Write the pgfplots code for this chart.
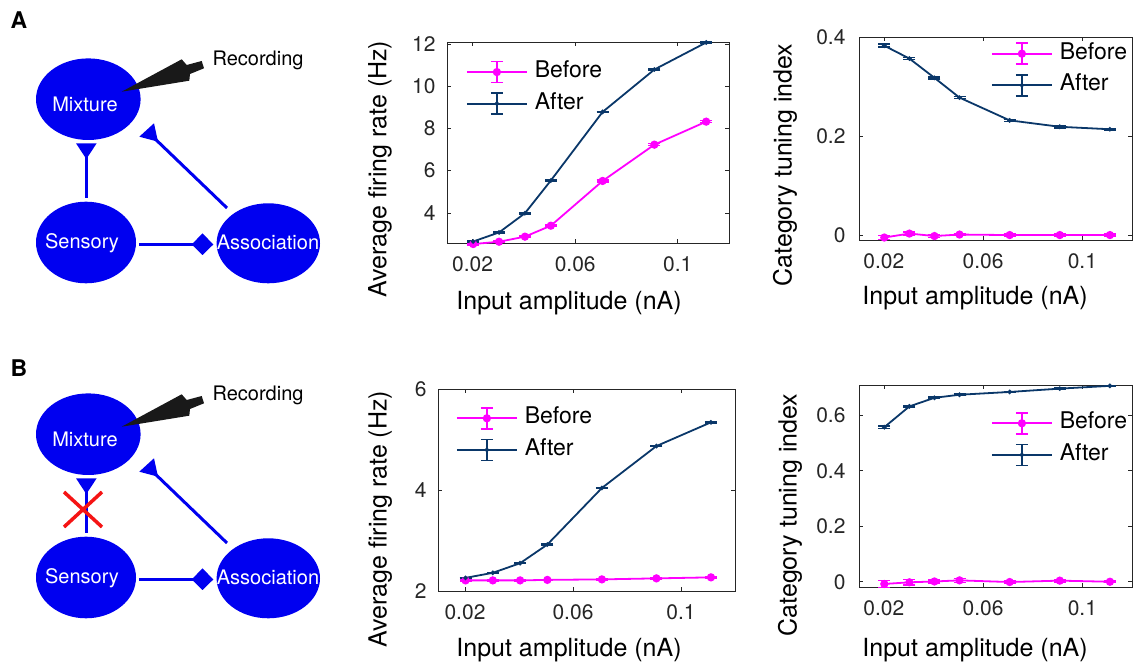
\documentclass[border=0pt]{standalone}
\usepackage{fontspec}
\setmainfont{TeX Gyre Heros}
\usepackage{pgfplots}
\pgfplotsset{compat=1.18}
\definecolor{mag}{RGB}{255,0,255}
\definecolor{aft}{RGB}{10,55,105}
\definecolor{axc}{RGB}{38,38,38}
\definecolor{nodeblue}{RGB}{0,0,240}
\definecolor{xred}{RGB}{245,20,20}

\pgfplotsset{
 mystyle/.style={
   scale only axis,
   xmin=0.01, xmax=0.12,
   xtick={0.02,0.06,0.1}, xticklabels={0.02,0.06,0.1},
   tick align=inside,
   major tick length=4pt,
   axis line style={axc, line width=0.6pt},
   every tick/.style={axc, line width=0.6pt},
   ticklabel style={font=\fontsize{21}{25}\selectfont, text=axc},
   /pgf/number format/assume math mode=true,
   xticklabel style={yshift=-10pt},
   label style={font=\fontsize{25}{30}\selectfont},
   legend style={draw=none, fill=none, inner sep=0pt, outer sep=0pt,
     font=\fontsize{23}{27}\selectfont,
     nodes={inner sep=0pt, text height=16pt, text depth=5pt, anchor=west},
     row sep=9pt, column sep=7pt, anchor=north west},
   legend cell align=left,
   clip=false,
 },
 beforeplot/.style={mag, line width=1.8pt, mark=*, mark size=3.2pt, mark options={solid, fill=mag},
   legend image code/.code={
     \draw[mag, line width=1.8pt] (0pt,0pt) -- (60pt,0pt);
     \draw[mag, line width=1.6pt] (30pt,-10.5pt) -- (30pt,10.5pt) (24pt,-10.5pt) -- (36pt,-10.5pt) (24pt,10.5pt) -- (36pt,10.5pt);
     \fill[mag] (30pt,0pt) circle (3.2pt);
   },
   error bars/.cd, y dir=both, y explicit, error bar style={line width=1.5pt, mag},
   error mark options={rotate=90, mag, mark size=6pt, line width=1.5pt}},
 afterplot/.style={aft, line width=1.8pt, mark=*, mark size=1.3pt, mark options={solid, fill=aft},
   legend image code/.code={
     \draw[aft, line width=1.8pt] (0pt,0pt) -- (60pt,0pt);
     \draw[aft, line width=1.6pt] (30pt,-10.5pt) -- (30pt,10.5pt) (24pt,-10.5pt) -- (36pt,-10.5pt) (24pt,10.5pt) -- (36pt,10.5pt);
     \fill[aft] (30pt,0pt) circle (1.3pt);
   },
   error bars/.cd, y dir=both, y explicit, error bar style={line width=1.5pt, aft},
   error mark options={rotate=90, aft, mark size=6pt, line width=1.5pt}},
}

\newcommand{\diagram}{%
 \fill[nodeblue] (88.3,99.2) ellipse (52.3 and 40.8);
 \fill[nodeblue] (86,242.5) ellipse (50 and 40.8);
 \fill[nodeblue] (268.3,243.3) ellipse (51.7 and 40);
 \node[white, font=\fontsize{20}{24}\selectfont] at (85,104) {Mixture};
 \node[white, font=\fontsize{20}{24}\selectfont] at (82,243) {Sensory};
 \node[white, font=\fontsize{20}{24}\selectfont] at (268,242.5) {Association};
 \node[black, font=\fontsize{20}{24}\selectfont] at (258,60) {Recording};
 \fill[black!90] (121.7,91.7) -- (181.7,59.3) -- (186.7,65) -- (201.7,61) -- (204,68.3) -- (190,74) -- (189.3,80.7) -- cycle;
 \draw[nodeblue, line width=3pt] (86,157) -- (86,198);
 \fill[nodeblue] (76,143.3) -- (96.7,143.3) -- (86.3,159) -- cycle;
 \draw[nodeblue, line width=3pt] (227,208) -- (150,134);
 \fill[nodeblue] (139.3,136.7) -- (154,123.3) -- (158,141.7) -- cycle;
 \draw[nodeblue, line width=3pt] (139.3,244.5) -- (195,244.5);
 \fill[nodeblue] (191.7,244.5) -- (202.5,233.3) -- (213.3,244.5) -- (202.5,255) -- cycle;
}

\begin{document}
\begin{tikzpicture}
\path[use as bounding box] (0,0) rectangle (1136pt,667pt);

% diagrams
\begin{scope}[x=1pt,y=-1pt,yshift=667pt]
 \diagram
 \node[font=\bfseries\fontsize{23}{27}\selectfont] at (19,20) {A};
 \node[font=\bfseries\fontsize{23}{27}\selectfont] at (19,368) {B};
\end{scope}
\begin{scope}[x=1pt,y=-1pt,yshift=332pt]
 \diagram
 \draw[xred, line width=3.5pt] (64,157) -- (102,192) (102,157) -- (64,192);
\end{scope}

% A1
\begin{axis}[mystyle, at={(447pt,424pt)}, anchor=south west, width=282pt, height=200.7pt,
  ymin=2.57, ymax=12.08, ytick={4,6,8,10,12}, yticklabels={4,6,8,10,12},
  yticklabel style={xshift=-8pt},
  xlabel={Input amplitude (nA)}, ylabel={Average firing rate (Hz)},
  xlabel style={at={(axis description cs:0.4326,-0.299)}, anchor=center},
  ylabel style={at={(axis description cs:-0.2376,0.369)}, anchor=center},
  legend style={at={(axis description cs:0.0674,0.908)}}]
\addplot[beforeplot] table[x=x, y=y, y error=e] {
x y e
0.0202 2.52 0.04
0.0303 2.63 0.04
0.0404 2.87 0.04
0.0505 3.39 0.04
0.0707 5.51 0.05
0.0909 7.23 0.05
0.1111 8.32 0.05
};
\addlegendentry{Before}
\addplot[afterplot] table[x=x, y=y, y error=e] {
x y e
0.0202 2.64 0.03
0.0303 3.07 0.03
0.0404 3.98 0.03
0.0505 5.53 0.03
0.0707 8.78 0.03
0.0909 10.79 0.03
0.1111 12.07 0.03
};
\addlegendentry{After}
\end{axis}

% A2
\begin{axis}[mystyle, at={(859pt,427pt)}, anchor=south west, width=273pt, height=202.7pt,
  ymin=-0.01, ymax=0.4, ytick={0,0.2,0.4}, yticklabels={0,0.2,0.4},
  yticklabel style={xshift=-10pt},
  xlabel={Input amplitude (nA)}, ylabel={Category tuning index},
  xlabel style={at={(axis description cs:0.425,-0.286)}, anchor=center},
  ylabel style={at={(axis description cs:-0.271,0.37)}, anchor=center},
  legend style={at={(axis description cs:0.4835,0.975)}}]
\addplot[beforeplot] table[x=x, y=y, y error=e] {
x y e
0.0202 -0.005 0.004
0.0303 0.003 0.003
0.0404 -0.002 0.003
0.0505 0.001 0.002
0.0707 0.000 0.002
0.0909 0.000 0.002
0.1111 0.000 0.002
};
\addlegendentry{Before}
\addplot[afterplot] table[x=x, y=y, y error=e] {
x y e
0.0202 0.383 0.003
0.0303 0.357 0.002
0.0404 0.318 0.002
0.0505 0.278 0.002
0.0707 0.232 0.002
0.0909 0.219 0.002
0.1111 0.214 0.002
};
\addlegendentry{After}
\end{axis}

% B1
\begin{axis}[mystyle, at={(438pt,76pt)}, anchor=south west, width=297pt, height=202pt,
  ymin=2, ymax=6, ytick={2,4,6}, yticklabels={2,4,6},
  yticklabel style={xshift=-8pt},
  xlabel={Input amplitude (nA)}, ylabel={Average firing rate (Hz)},
  xlabel style={at={(axis description cs:0.441,-0.292)}, anchor=center},
  ylabel style={at={(axis description cs:-0.195,0.356)}, anchor=center},
  legend style={at={(axis description cs:0.0606,0.911)}}]
\addplot[beforeplot] table[x=x, y=y, y error=e] {
x y e
0.0202 2.21 0.01
0.0303 2.21 0.01
0.0404 2.21 0.01
0.0505 2.22 0.01
0.0707 2.23 0.01
0.0909 2.25 0.01
0.1111 2.27 0.01
};
\addlegendentry{Before}
\addplot[afterplot] table[x=x, y=y, y error=e] {
x y e
0.0202 2.26 0.01
0.0303 2.36 0.01
0.0404 2.55 0.01
0.0505 2.92 0.01
0.0707 4.04 0.01
0.0909 4.87 0.01
0.1111 5.34 0.01
};
\addlegendentry{After}
\end{axis}

% B2
\begin{axis}[mystyle, at={(859pt,79.7pt)}, anchor=south west, width=273pt, height=202pt,
  ymin=-0.02, ymax=0.708, ytick={0,0.2,0.4,0.6}, yticklabels={0,0.2,0.4,0.6},
  yticklabel style={xshift=-10pt},
  xlabel={Input amplitude (nA)}, ylabel={Category tuning index},
  xlabel style={at={(axis description cs:0.425,-0.31)}, anchor=center},
  ylabel style={at={(axis description cs:-0.253,0.358)}, anchor=center},
  legend style={at={(axis description cs:0.4835,0.868)}}]
\addplot[beforeplot] table[x=x, y=y, y error=e] {
x y e
0.0202 -0.008 0.013
0.0303 -0.002 0.010
0.0404 0.001 0.006
0.0505 0.005 0.007
0.0707 -0.001 0.003
0.0909 0.004 0.004
0.1111 0.000 0.003
};
\addlegendentry{Before}
\addplot[afterplot] table[x=x, y=y, y error=e] {
x y e
0.0202 0.557 0.004
0.0303 0.632 0.003
0.0404 0.663 0.002
0.0505 0.674 0.002
0.0707 0.684 0.002
0.0909 0.696 0.002
0.1111 0.706 0.002
};
\addlegendentry{After}
\end{axis}
\end{tikzpicture}
\end{document}
